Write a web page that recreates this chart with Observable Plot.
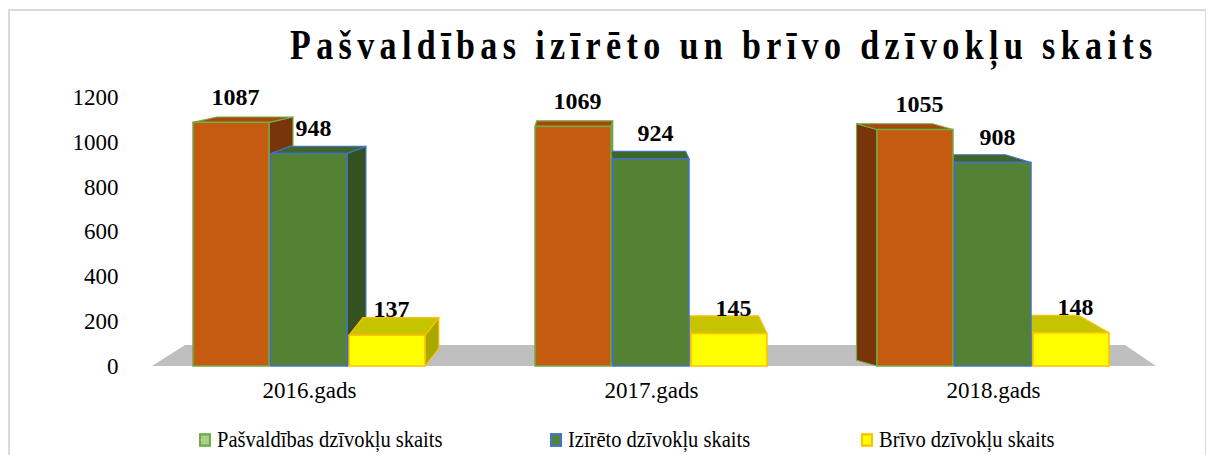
<!DOCTYPE html>
<html>
<head>
<meta charset="utf-8">
<script src="https://cdn.jsdelivr.net/npm/d3@7"></script>
<script src="https://cdn.jsdelivr.net/npm/@observablehq/plot@0.6"></script>
<style>
  html, body { margin: 0; padding: 0; background: #fff; }
  #wrap { position: relative; width: 1206px; height: 455px; overflow: hidden; font-family: "Liberation Serif", "DejaVu Serif", serif; }
  #frame { position: absolute; left: 8px; top: 9px; width: 1195px; height: 460px; border-left: 2px solid #d9d9d9; border-top: 2px solid #d9d9d9; border-right: 2px solid #d9d9d9; }
  #title { position: absolute; left: 290px; top: 26px; font-size: 34px; line-height: 40px; font-weight: bold; letter-spacing: 5.4px; color: #000; white-space: nowrap; transform: scaleY(1.22); transform-origin: left center; }
  #chart { position: absolute; left: 0; top: 80px; }
  #legend { position: absolute; top: 428px; left: 0; width: 1206px; height: 24px; font-size: 20.5px; color: #000; transform: scaleY(1.12); transform-origin: center; }
  .item { position: absolute; top: 0; white-space: nowrap; display: flex; align-items: center; }
  .sw { display: inline-block; width: 12px; height: 12px; margin-right: 6px; box-sizing: border-box; }
</style>
</head>
<body>
<div id="wrap">
  <div id="frame"></div>
  <div id="title"></div>
  <div id="chart"></div>
  <div id="legend"></div>
</div>
<script>
const years = ["2016.gads", "2017.gads", "2018.gads"];
const series = ["Pašvaldības dzīvokļu skaits", "Izīrēto dzīvokļu skaits", "Brīvo dzīvokļu skaits"];
const pasvaldibas = [1087, 1069, 1055];
const iziretie = [948, 924, 908];
const brivie = [137, 145, 148];
const yTicks = [0, 200, 400, 600, 800, 1000, 1200];
const titleText = "Pašvaldības izīrēto un brīvo dzīvokļu skaits";

const fills = ["#C55A11", "#548235", "#FFFF00"];
const topFills = ["#A8490C", "#3F6629", "#C6C400"];
const sideFills = ["#7A340A", "#34521F", "#A9A800"];
const strokes = ["#70AD47", "#4472C4", "#FFC000"];
const floorDepth = 94;

const seriesValues = [pasvaldibas, iziretie, brivie];
const data = [];
years.forEach((yr, i) => {
  series.forEach((s, j) => data.push({year: yr, series: s, value: seriesValues[j][i]}));
});

document.getElementById("title").textContent = titleText;

const floor = Plot.frame({
  facet: "super",
  render: (index, scales, values, dims) => {
    const {width, marginLeft, marginRight} = dims;
    const y0 = scales.y(0), y1 = scales.y(floorDepth);
    const l = marginLeft + 14, r = width - marginRight - 8;
    const g = d3.create("svg:g");
    g.append("polygon")
      .attr("points", `${l},${y0} ${l + 33},${y1} ${r - 31},${y1} ${r},${y0}`)
      .attr("fill", "#BFBFBF");
    return g.node();
  }
});

// pseudo-3D bars: front face plus perspective top and side faces
const vanishX = 600, eyeY = -50, kx = 0.065, ky = 0.058;
function bars3d(index, scales) {
  const g = d3.create("svg:g");
  const bw = scales.x.bandwidth();
  const x0r = scales.x.range()[0];
  const items = Array.from(index, i => {
    const d = data[i];
    const j = series.indexOf(d.series);
    const x0 = scales.x(d.series), x1 = x0 + bw;
    const yt = scales.y(d.value), yb = scales.y(0);
    const absX = (scales.fx ? scales.fx(d.year) : 0) + (x0 - x0r) + bw / 2;
    const dx = (vanishX - absX) * kx;
    const dy = -(yt - eyeY) * ky;
    return {j, x0, x1, yt, yb, dx, dy};
  }).sort((a, b) => a.j - b.j);
  const pts = p => p.map(q => q.join(",")).join(" ");
  for (const b of items) {
    const {x0, x1, yt, yb, dx, dy, j} = b;
    const sx = dx >= 0 ? x1 : x0;
    g.append("polygon").attr("points", pts([[sx, yt], [sx + dx, yt + dy], [sx + dx, yb + dy], [sx, yb]]))
      .attr("fill", sideFills[j]).attr("stroke", strokes[j]).attr("stroke-width", 1.2).attr("stroke-linejoin", "round");
    g.append("polygon").attr("points", pts([[x0, yt], [x1, yt], [x1 + dx, yt + dy], [x0 + dx, yt + dy]]))
      .attr("fill", topFills[j]).attr("stroke", strokes[j]).attr("stroke-width", 1.2).attr("stroke-linejoin", "round");
  }
  for (const b of items) {
    const {x0, x1, yt, yb, j} = b;
    g.append("rect").attr("x", x0).attr("y", yt).attr("width", x1 - x0).attr("height", yb - yt)
      .attr("fill", fills[j]).attr("stroke", strokes[j]).attr("stroke-width", 1.5);
  }
  return g.node();
}

const plot = Plot.plot({
  width: 1206,
  height: 330,
  marginTop: 17,
  marginBottom: 44,
  marginLeft: 138,
  marginRight: 42,
  style: {fontFamily: "Liberation Serif, serif", fontSize: "23px", color: "#000", background: "transparent"},
  fx: {domain: years, paddingInner: 0, paddingOuter: 0, label: null, axis: "bottom", tickSize: 0, tickPadding: 15},
  x: {domain: series, paddingInner: 0.026, paddingOuter: 0.705, axis: null},
  y: {domain: [0, 1200], ticks: yTicks, tickSize: 0, tickPadding: 20, label: null, tickFormat: d => String(d)},
  color: {domain: series, range: fills},
  marks: [
    floor,
    Plot.barY(data, {fx: "year", x: "series", y: "value", fill: "series", render: bars3d}),
    Plot.text(data, {fx: "year", x: "series", y: "value", text: d => String(d.value),
      dy: -26, dx: 4, fontWeight: "bold", fontSize: 24, fill: "#000"})
  ]
});
document.getElementById("chart").appendChild(plot);

// legend
const legend = document.getElementById("legend");
const legendX = [199, 550, 861];
const swFill = ["#A9D18E", "#548235", "#FFFF00"];
series.forEach((s, j) => {
  const it = document.createElement("div");
  it.className = "item";
  it.style.left = legendX[j] + "px";
  const sw = document.createElement("span");
  sw.className = "sw";
  sw.style.background = swFill[j];
  sw.style.border = `2px solid ${strokes[j]}`;
  it.appendChild(sw);
  const t = document.createElement("span");
  t.textContent = s;
  it.appendChild(t);
  legend.appendChild(it);
});
</script>
</body>
</html>
